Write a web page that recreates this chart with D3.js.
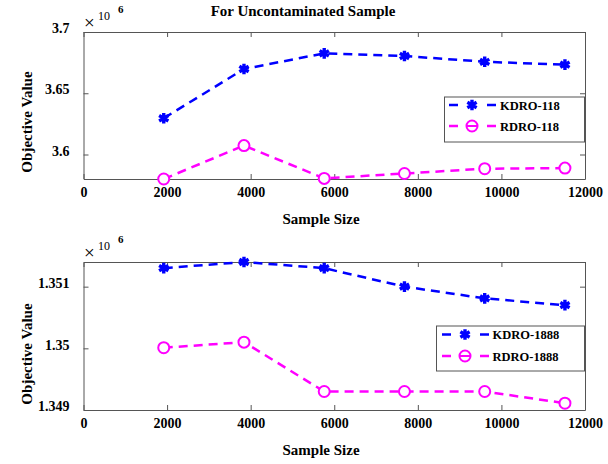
<!DOCTYPE html>
<html>
<head>
<meta charset="utf-8">
<script src="https://cdn.jsdelivr.net/npm/d3@7"></script>
<style>
  body { margin: 0; background: #fff; }
</style>
</head>
<body>
<div id="chart"></div>
<script>
// sample sizes on x axis
const sampleSizes = [1920, 3840, 5760, 7680, 9600, 11520];
const xTicks = [0, 2000, 4000, 6000, 8000, 10000, 12000];

// objective values (x 10^6)
const kdro118 = [3.6296, 3.6698, 3.6826, 3.6804, 3.6757, 3.6733];
const rdro118 = [3.5800, 3.6073, 3.5805, 3.5845, 3.5884, 3.5889];
const kdro1888 = [1.35130, 1.35140, 1.35130, 1.35100, 1.35081, 1.35070];
const rdro1888 = [1.35001, 1.35010, 1.34930, 1.34930, 1.34930, 1.34911];

const yTicks118 = [3.6, 3.65, 3.7];
const yTicks1888 = [1.349, 1.35, 1.351];

const W = 608, H = 464;
const FONT = "Liberation Serif";
const svg = d3.select("#chart").append("svg")
  .attr("width", W).attr("height", H)
  .attr("font-family", FONT);

const blue = "#0000ff", magenta = "#ff00ff", axisColor = "#555";

// Title
svg.append("text")
  .attr("x", 303).attr("y", 16)
  .attr("text-anchor", "middle")
  .attr("font-family", FONT).attr("font-size", 15).attr("font-weight", "bold")
  .text("For Uncontaminated Sample");

const panels = [
  {
    top: 32, bottom: 179, domain: [3.58, 3.7], ticks: yTicks118,
    series: [
      { name: "KDRO-118", values: kdro118, color: blue, marker: "star" },
      { name: "RDRO-118", values: rdro118, color: magenta, marker: "circle" }
    ],
    legend: { x0: 444.5, x1: 584.5, y0: 97, y1: 142, lineX0: 449, markerX: 472, lineX1: 496, textX: 500, rows: [105, 126] },
    labelY: 122
  },
  {
    top: 262, bottom: 410, domain: [1.349, 1.3514], ticks: yTicks1888,
    series: [
      { name: "KDRO-1888", values: kdro1888, color: blue, marker: "star" },
      { name: "RDRO-1888", values: rdro1888, color: magenta, marker: "circle" }
    ],
    legend: { x0: 436.5, x1: 584.5, y0: 326, y1: 371, lineX0: 442, markerX: 465, lineX1: 489, textX: 492.5, rows: [334.5, 356] },
    labelY: 354
  }
];

const left = 83.5, right = 585;

function drawMarker(g, type, cx, cy, color) {
  if (type === "star") {
    g.append("path")
      .attr("transform", `translate(${cx},${cy})`)
      .attr("d", d3.symbol(d3.symbolAsterisk, 80)())
      .attr("fill", "none")
      .attr("stroke", color)
      .attr("stroke-width", 3.4);
  } else {
    g.append("circle")
      .attr("cx", cx).attr("cy", cy).attr("r", 5.5)
      .attr("fill", "#fff")
      .attr("stroke", color)
      .attr("stroke-width", 2);
  }
}

panels.forEach(p => {
  const x = d3.scaleLinear().domain([0, 12000]).range([left, right]);
  const y = d3.scaleLinear().domain(p.domain).range([p.bottom, p.top]);
  const g = svg.append("g");

  // axes, ticks pointing inward
  const fmt = d => String(d);
  g.append("g")
    .attr("transform", `translate(0,${p.bottom})`)
    .call(d3.axisBottom(x).tickValues(xTicks).tickFormat(fmt).tickSize(-5).tickSizeOuter(0).tickPadding(8));
  g.append("g")
    .attr("transform", `translate(0,${p.top})`)
    .call(d3.axisTop(x).tickValues(xTicks).tickFormat("").tickSize(-5).tickSizeOuter(0));
  const yAxis = g.append("g")
    .attr("transform", `translate(${left},0)`)
    .call(d3.axisLeft(y).tickValues(p.ticks).tickFormat(fmt).tickSize(-5).tickSizeOuter(0).tickPadding(14));
  yAxis.selectAll(".tick text").attr("dy", "0.05em");
  g.append("g")
    .attr("transform", `translate(${right},0)`)
    .call(d3.axisRight(y).tickValues(p.ticks).tickFormat("").tickSize(-5).tickSizeOuter(0));

  g.selectAll("g").attr("font-family", FONT).attr("font-size", 14);
  g.selectAll(".domain, .tick line").attr("stroke", axisColor);
  g.selectAll(".tick text")
    .attr("fill", "#000")
    .attr("font-family", FONT).attr("font-size", 14).attr("font-weight", "bold");

  // x10^6 multiplier
  const m = g.append("text").attr("y", p.top - 3).attr("fill", "#000").attr("font-family", FONT);
  m.append("tspan").attr("x", 84).attr("font-size", 19).text("\u00d7");
  m.append("tspan").attr("x", 98).attr("dy", -9).attr("font-size", 12).text("10");
  m.append("tspan").attr("x", 118).attr("dy", -7).attr("font-size", 11).attr("font-weight", "bold").text("6");

  // axis labels
  g.append("text")
    .attr("x", 321).attr("y", p.bottom + 45)
    .attr("text-anchor", "middle")
    .attr("font-family", FONT).attr("font-size", 15).attr("font-weight", "bold")
    .text("Sample Size");
  g.append("text")
    .attr("transform", `translate(32,${p.labelY}) rotate(-90)`)
    .attr("text-anchor", "middle")
    .attr("font-family", FONT).attr("font-size", 15).attr("font-weight", "bold")
    .text("Objective Value");

  // series
  const line = d3.line().x((d, i) => x(sampleSizes[i])).y(d => y(d));
  p.series.forEach(s => {
    g.append("path")
      .datum(s.values)
      .attr("fill", "none")
      .attr("stroke", s.color)
      .attr("stroke-width", 2.5)
      .attr("stroke-dasharray", "9,6")
      .attr("d", line);
    s.values.forEach((v, i) => drawMarker(g, s.marker, x(sampleSizes[i]), y(v), s.color));
  });

  // legend
  const L = p.legend;
  const lg = g.append("g");
  lg.append("rect")
    .attr("x", L.x0).attr("y", L.y0)
    .attr("width", L.x1 - L.x0).attr("height", L.y1 - L.y0)
    .attr("fill", "#fff").attr("stroke", axisColor);
  p.series.forEach((s, i) => {
    const ry = L.rows[i];
    lg.append("line")
      .attr("x1", L.lineX0).attr("x2", L.lineX1)
      .attr("y1", ry).attr("y2", ry)
      .attr("stroke", s.color).attr("stroke-width", 2.5)
      .attr("stroke-dasharray", "9," + (L.lineX1 - L.lineX0 - 18));
    drawMarker(lg, s.marker, L.markerX, ry, s.color);
    if (s.marker === "circle") {
      lg.append("line")
        .attr("x1", L.markerX - 5).attr("x2", L.markerX + 5)
        .attr("y1", ry).attr("y2", ry)
        .attr("stroke", s.color).attr("stroke-width", 2);
    }
    lg.append("text")
      .attr("x", L.textX).attr("y", ry + 4.5)
      .attr("font-family", FONT).attr("font-size", 12.5).attr("font-weight", "bold")
      .text(s.name);
  });
});
</script>
</body>
</html>
